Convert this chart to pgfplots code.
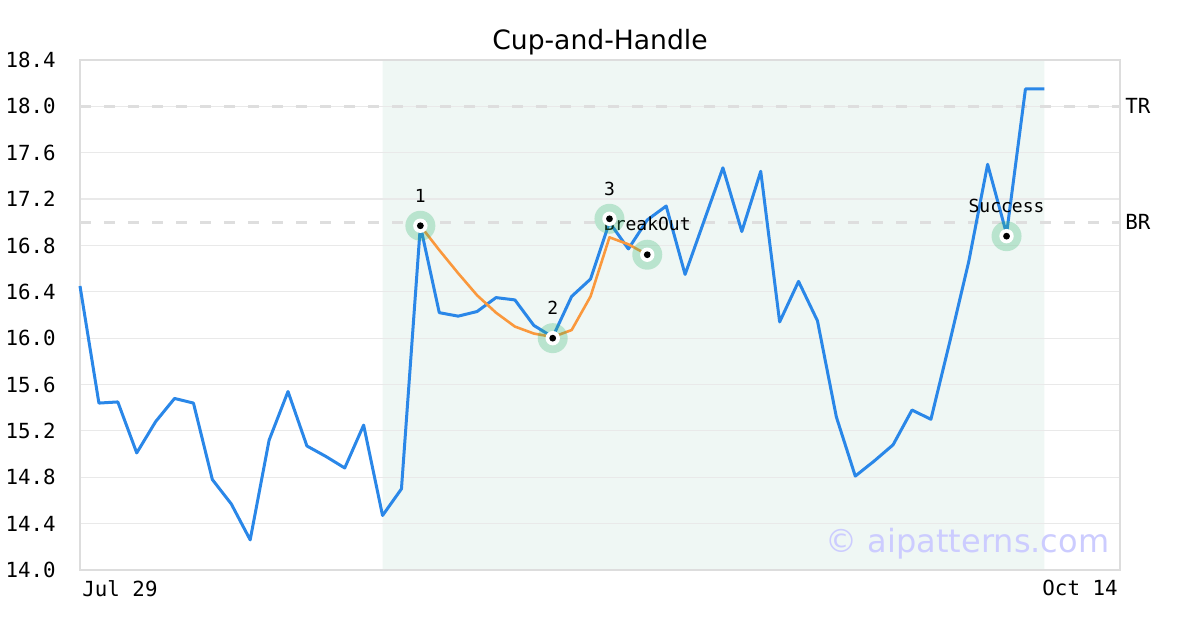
\documentclass[border=0pt]{standalone}
\usepackage{fontspec}
\setmainfont{DejaVu Sans Mono}
\newfontfamily\sansfont{DejaVu Sans}
\usepackage{pgfplots}
\pgfplotsset{compat=1.18}

\definecolor{lineblue}{RGB}{42,135,232}
\definecolor{fitorange}{RGB}{250,152,60}
\definecolor{halo}{RGB}{48,180,108}
\definecolor{shade}{RGB}{239,247,244}
\definecolor{framegray}{RGB}{221,221,221}
\definecolor{gridgray}{RGB}{233,233,233}
\definecolor{dashgray}{RGB}{222,222,222}
\definecolor{wm}{RGB}{204,204,255}

\newcommand{\tickfont}{\fontsize{10.4}{12}\selectfont}
\newcommand{\lblfont}{\fontsize{9}{11}\selectfont}

\begin{document}
\begin{tikzpicture}
\begin{axis}[
  set layers,
  scale only axis,
  width=520pt, height=255pt,
  xmin=0, xmax=55, ymin=14, ymax=18.4,
  clip=false,
  xtick=\empty,
  ytick={14.0,14.4,14.8,15.2,15.6,16.0,16.4,16.8,17.2,17.6,18.0,18.4},
  ymajorgrids,
  grid style={gridgray, line width=0.6pt},
  tick style={draw=none},
  axis line style={framegray, line width=1.3pt},
  yticklabel style={font=\tickfont, inner sep=0pt, anchor=east, xshift=-12pt,
    /pgf/number format/fixed, /pgf/number format/fixed zerofill,
    /pgf/number format/precision=1, /pgf/number format/assume math mode=true},
  title={Cup-and-Handle},
  title style={font=\sansfont\fontsize{13.3}{16}\selectfont, at={(0.5,1)}, anchor=base, inner sep=0pt, yshift=-1pt},
]
% pattern zone
\addplot[on layer=axis background, draw=none, fill=shade]
  coordinates {(16,14) (16,18.4) (51,18.4) (51,14) (16,14)};
% TR / BR levels
\addplot[dashgray, line width=1.5pt, dash pattern=on 5.5pt off 6.5pt] coordinates {(0,18) (55,18)};
\addplot[dashgray, line width=1.5pt, dash pattern=on 5.5pt off 6.5pt] coordinates {(0,17) (55,17)};
% price
\addplot[lineblue, line width=1.5pt, line join=round] table {
x y
0 16.45
1 15.44
2 15.45
3 15.01
4 15.28
5 15.48
6 15.44
7 14.78
8 14.57
9 14.26
10 15.12
11 15.54
12 15.07
13 14.98
14 14.88
15 15.25
16 14.47
17 14.70
18 16.97
19 16.22
20 16.19
21 16.23
22 16.35
23 16.33
24 16.11
25 16.01
26 16.36
27 16.51
28 17.00
29 16.77
30 17.02
31 17.14
32 16.55
33 17.01
34 17.47
35 16.92
36 17.44
37 16.14
38 16.49
39 16.15
40 15.32
41 14.81
42 14.94
43 15.08
44 15.38
45 15.30
46 15.97
47 16.66
48 17.50
49 16.90
50 18.15
51 18.15
};
% cup fit
\addplot[fitorange, line width=1.3pt, line join=round] table {
x y
18 16.97
19 16.76
20 16.56
21 16.37
22 16.22
23 16.10
24 16.04
25 16.01
26 16.07
27 16.36
28 16.87
29 16.81
30 16.72
};
% markers
\addplot[only marks, mark=*, mark size=7.5pt, mark options={draw opacity=0, line width=0pt, fill=halo, fill opacity=0.28}]
  coordinates {(18,16.97) (25,16.00) (28,17.03) (30,16.72) (49,16.88)};
\addplot[only marks, mark=*, mark size=3.6pt, mark options={draw opacity=0, line width=0pt, fill=white}]
  coordinates {(18,16.97) (25,16.00) (28,17.03) (30,16.72) (49,16.88)};
\addplot[only marks, mark=*, mark size=1.7pt, mark options={draw opacity=0, line width=0pt, fill=black}]
  coordinates {(18,16.97) (25,16.00) (28,17.03) (30,16.72) (49,16.88)};

\node[font=\lblfont, yshift=15pt] at (axis cs:18,16.97) {1};
\node[font=\lblfont, yshift=15pt] at (axis cs:25,16.00) {2};
\node[font=\lblfont, yshift=15pt] at (axis cs:28,17.03) {3};
\node[font=\lblfont, yshift=15.5pt] at (axis cs:30,16.72) {BreakOut};
\node[font=\lblfont, yshift=15pt] at (axis cs:49,16.88) {Success};

\node[anchor=west, inner sep=0pt, font=\tickfont, xshift=2.5pt] at (axis cs:55,18) {TR};
\node[anchor=west, inner sep=0pt, font=\tickfont, xshift=2.5pt] at (axis cs:55,17) {BR};

\node[anchor=north west, inner sep=0pt, font=\tickfont, xshift=1pt, yshift=-5pt] at (axis cs:0,14) {Jul 29};
\node[anchor=north east, inner sep=0pt, font=\tickfont, xshift=-1pt, yshift=-5pt] at (axis cs:55,14) {Oct 14};

\node[anchor=east, inner sep=0pt, text=wm, font=\sansfont\fontsize{16}{19}\selectfont] at (rel axis cs:0.99,0.052) {© aipatterns.com};

\coordinate (bl) at (rel axis cs:0,0);
\coordinate (tr) at (rel axis cs:1,1);
\end{axis}
\pgfresetboundingbox
\path (bl) ++(-40pt,-30pt) rectangle ([shift={(40pt,30pt)}]tr);
\end{tikzpicture}
\end{document}
